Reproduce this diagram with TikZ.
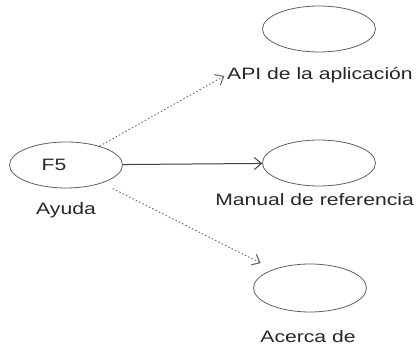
\documentclass[tikz,border=0pt]{standalone}
\usepackage{fontspec}
\setmainfont{Liberation Sans}[FakeStretch=1.28]
\usetikzlibrary{arrows.meta,shapes.geometric}
\begin{document}
\begin{tikzpicture}[x=1pt,y=1pt,
  usecase/.style={ellipse,draw=black!62,line width=0.8pt,minimum width=113pt,minimum height=46pt,inner sep=0pt},
  lbl/.style={font=\fontsize{16.5}{18}\selectfont,text=black!85,inner sep=1pt},
  dep/.style={draw=black!60,line width=0.9pt,dash pattern=on 1.5pt off 2.2pt,-{Straight Barb[length=7pt,width=12pt,line width=1.1pt]}},
  assoc/.style={draw=black!75,line width=1pt,-{Straight Barb[length=7pt,width=12pt]}}]
\useasboundingbox (0,0) rectangle (416,-347);
% use cases
\node[usecase] (f5) at (66,-165) {};
\node[lbl,anchor=center] (f5txt) at (54,-165) {F5};
\node[lbl] (ayuda) at (66,-210) {Ayuda};
\node[usecase] (api) at (319,-29) {};
\node[lbl] (apilbl) at (320,-75) {API de la aplicación};
\node[usecase] (manual) at (319,-163) {};
\node[lbl,anchor=east] (manlbl) at (415,-200) {Manual de referencia};
\node[usecase,minimum height=48pt] (acerca) at (310,-288) {};
\node[lbl] (acercalbl) at (308,-337) {Acerca de};
% connectors
\draw[dep,shorten >=2pt] (f5) -- (apilbl.west);
\draw[assoc] (f5) -- (manual);
\draw[dep,shorten <=12pt,shorten >=14pt] (f5) -- (acerca);
\end{tikzpicture}
\end{document}
